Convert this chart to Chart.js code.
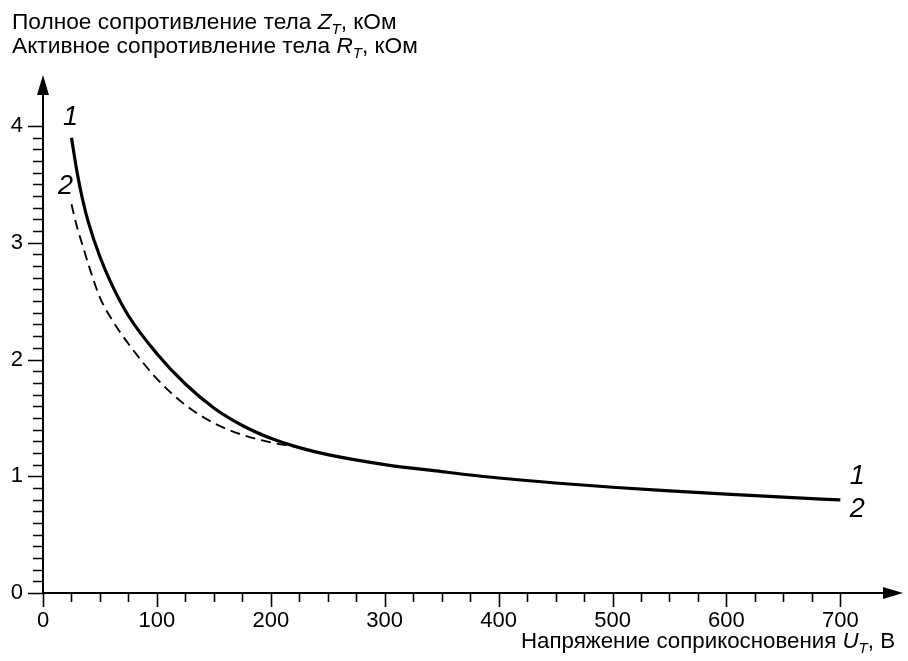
<!DOCTYPE html>
<html>
<head>
<meta charset="utf-8">
<script src="https://cdn.jsdelivr.net/npm/chart.js@4/dist/chart.umd.min.js"></script>
<style>
  html, body { margin: 0; padding: 0; background: #fff; }
  #wrap { width: 908px; height: 661px; position: relative; }
</style>
</head>
<body>
<div id="wrap"><canvas id="c" width="908" height="661"></canvas></div>
<script>
// ---- data ----
const voltage = [25, 30, 35, 40, 50, 60, 75, 100, 125, 150, 175, 200, 225, 250, 300, 350, 400, 450, 500, 550, 600, 650, 700];
const impedanceZ = [3.90, 3.60, 3.36, 3.17, 2.88, 2.65, 2.375, 2.05, 1.79, 1.585, 1.435, 1.325, 1.245, 1.185, 1.10, 1.04, 0.985, 0.942, 0.906, 0.875, 0.847, 0.821, 0.797];
const voltageR = [25, 30, 35, 40, 50, 60, 75, 100, 125, 150, 175, 200, 225, 250];
const resistanceR = [3.33, 3.13, 2.97, 2.81, 2.53, 2.35, 2.135, 1.835, 1.61, 1.455, 1.355, 1.29, 1.245, 1.185];
const xTickValues = [0, 100, 200, 300, 400, 500, 600, 700];
const yTickValues = [0, 1, 2, 3, 4];
const xMinorStep = 25;
const yMinorStep = 0.1;
const yTitleLines = [
  ["Полное сопротивление тела ", "Z", "T", ", кОм"],
  ["Активное сопротивление тела ", "R", "T", ", кОм"]
];
const xTitle = ["Напряжение соприкосновения ", "U", "T", ", В"];
const curveLabels = ["1", "2"];

const FONT = '"Liberation Sans", Arial, sans-serif';
Chart.defaults.font.family = FONT;
Chart.defaults.color = '#000';

function drawRich(ctx, parts, x, y, align, size) {
  const normal = size + 'px ' + FONT, ital = 'italic ' + size + 'px ' + FONT, sub = 'italic ' + Math.round(size * 0.68) + 'px ' + FONT;
  const fonts = [normal, ital, sub, normal];
  const offs = [0, 0, 5, 0];
  let widths = parts.map((p, i) => { ctx.font = fonts[i]; return ctx.measureText(p).width; });
  let total = widths.reduce((a, b) => a + b, 0);
  let cx = align === 'right' ? x - total : x;
  ctx.textBaseline = 'alphabetic';
  ctx.textAlign = 'left';
  parts.forEach((p, i) => {
    ctx.font = fonts[i];
    ctx.fillText(p, cx, y + offs[i]);
    cx += widths[i];
  });
}

const axesPlugin = {
  id: 'axesPlugin',
  afterDraw(chart) {
    const ctx = chart.ctx;
    const xs = chart.scales.x, ys = chart.scales.y;
    const x0 = xs.getPixelForValue(0), y0 = ys.getPixelForValue(0);
    const xEnd = chart.chartArea.right, yEnd = chart.chartArea.top;
    ctx.save();
    ctx.strokeStyle = '#000';
    ctx.fillStyle = '#000';
    ctx.lineWidth = 2;
    ctx.beginPath();
    ctx.moveTo(x0, y0); ctx.lineTo(x0, yEnd + 15);
    ctx.moveTo(x0, y0); ctx.lineTo(xEnd - 15, y0);
    ctx.stroke();
    ctx.beginPath();
    ctx.moveTo(x0, yEnd); ctx.lineTo(x0 - 6, yEnd + 20); ctx.lineTo(x0 + 6, yEnd + 20); ctx.closePath();
    ctx.fill();
    ctx.beginPath();
    ctx.moveTo(xEnd, y0); ctx.lineTo(xEnd - 20, y0 - 6); ctx.lineTo(xEnd - 20, y0 + 6); ctx.closePath();
    ctx.fill();
    ctx.lineWidth = 1.6;
    ctx.beginPath();
    const xMax = xTickValues[xTickValues.length - 1];
    for (let v = 0; v <= xMax + 1e-9; v += xMinorStep) {
      const px = Math.round(xs.getPixelForValue(v)) + 0.5;
      const major = xTickValues.includes(v);
      ctx.moveTo(px, y0); ctx.lineTo(px, y0 + (major ? 14 : 9));
    }
    const yMax = yTickValues[yTickValues.length - 1];
    for (let i = 0; i <= Math.round(yMax / yMinorStep); i++) {
      const v = i * yMinorStep;
      const py = Math.round(ys.getPixelForValue(v)) + 0.5;
      const major = i % 10 === 0;
      ctx.moveTo(x0, py); ctx.lineTo(x0 - (major ? 15 : 10), py);
    }
    ctx.stroke();
    drawRich(ctx, yTitleLines[0], 12, 29, 'left', 22.7);
    drawRich(ctx, yTitleLines[1], 12, 53, 'left', 22.7);
    drawRich(ctx, xTitle, 895, 648, 'right', 22.3);
    ctx.font = 'italic 27px ' + FONT;
    ctx.textAlign = 'center';
    ctx.textBaseline = 'middle';
    const sx = xs.getPixelForValue(voltage[0]);
    ctx.fillText(curveLabels[0], sx - 1, ys.getPixelForValue(impedanceZ[0]) - 20);
    ctx.fillText(curveLabels[1], sx - 6, ys.getPixelForValue(resistanceR[0]) - 18);
    const ex = xs.getPixelForValue(voltage[voltage.length - 1]) + 17;
    const ey = ys.getPixelForValue(impedanceZ[impedanceZ.length - 1]);
    ctx.fillText(curveLabels[0], ex, ey - 23);
    ctx.fillText(curveLabels[1], ex, ey + 10);
    ctx.restore();
  }
};

new Chart(document.getElementById('c'), {
  type: 'line',
  data: {
    datasets: [
      {
        label: 'Z_T',
        data: voltage.map((v, i) => ({ x: v, y: impedanceZ[i] })),
        borderColor: '#000',
        borderWidth: 3.2,
        pointRadius: 0,
        cubicInterpolationMode: 'monotone',
        fill: false
      },
      {
        label: 'R_T',
        data: voltageR.map((v, i) => ({ x: v, y: resistanceR[i] })),
        borderColor: '#000',
        borderWidth: 1.9,
        borderDash: [10, 6],
        pointRadius: 0,
        cubicInterpolationMode: 'monotone',
        fill: false
      }
    ]
  },
  options: {
    responsive: false,
    animation: false,
    layout: { padding: { top: 75, right: 5, left: 0, bottom: 0 } },
    plugins: { legend: { display: false }, tooltip: { enabled: false }, title: { display: false } },
    scales: {
      x: {
        type: 'linear',
        min: 0, max: 755,
        grid: { display: false, drawTicks: false },
        border: { display: false },
        ticks: { font: { size: 22 }, padding: 15, maxRotation: 0, autoSkip: false },
        afterBuildTicks: (s) => { s.ticks = xTickValues.map(v => ({ value: v })); },
        afterFit: (s) => { s.height = 68; }
      },
      y: {
        type: 'linear',
        min: 0, max: 4.437,
        grid: { display: false, drawTicks: false },
        border: { display: false },
        ticks: { font: { size: 22 }, padding: 20, autoSkip: false },
        afterBuildTicks: (s) => { s.ticks = yTickValues.map(v => ({ value: v })); },
        afterFit: (s) => { s.width = 43; }
      }
    }
  },
  plugins: [axesPlugin]
});
</script>
</body>
</html>
